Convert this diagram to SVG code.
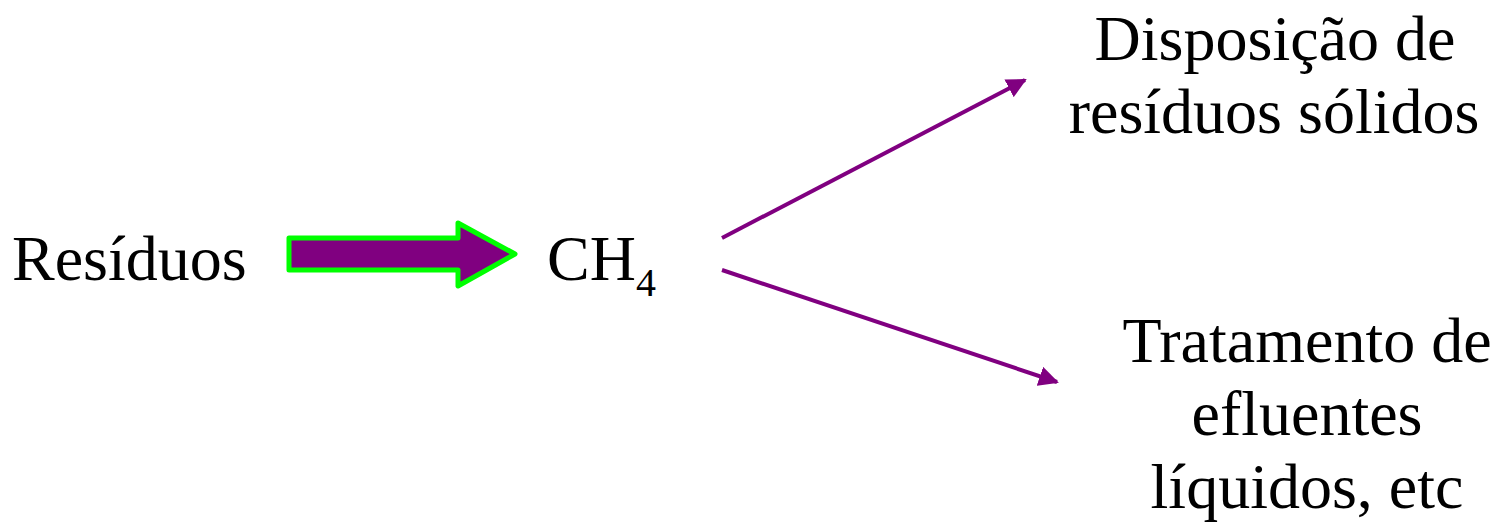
<svg xmlns="http://www.w3.org/2000/svg" width="1497" height="528" viewBox="0 0 1497 528">
<style>
.t{font-family:"Liberation Serif","Times New Roman",serif;font-size:64px;fill:#000}
.c{stroke:#800080;stroke-width:4;fill:none}
</style>
<defs>
<marker id="ah" viewBox="0 0 10 10" refX="9" refY="5" markerWidth="5" markerHeight="5" orient="auto" markerUnits="strokeWidth">
<path d="M0,0 L10,5 L0,10 z" fill="#800080"/>
</marker>
</defs>
<rect width="1497" height="528" fill="#fff"/>
<g id="residuos"><text class="t" x="12" y="280">Resíduos</text></g>
<g id="bigarrow"><polygon points="289,238 458,238 458,223 515,254 458,286 458,270 289,270" fill="#800080" stroke="#00ff00" stroke-width="5" stroke-linejoin="round"/></g>
<g id="ch4"><text class="t" x="547" y="280">CH<tspan font-size="40" dy="16">4</tspan></text></g>
<g id="disposicao"><text class="t" text-anchor="middle" x="1275" y="60">Disposição de</text><text class="t" text-anchor="middle" x="1274" y="133">resíduos sólidos</text></g>
<g id="tratamento"><text class="t" text-anchor="middle" x="1307" y="362">Tratamento de</text><text class="t" text-anchor="middle" x="1307" y="435">efluentes</text><text class="t" text-anchor="middle" x="1307" y="508">líquidos, etc</text></g>
<g id="connectors">
<line class="c" x1="722" y1="238" x2="1025" y2="80" marker-end="url(#ah)"/>
<line class="c" x1="722" y1="270" x2="1057" y2="382" marker-end="url(#ah)"/>
</g>
</svg>
